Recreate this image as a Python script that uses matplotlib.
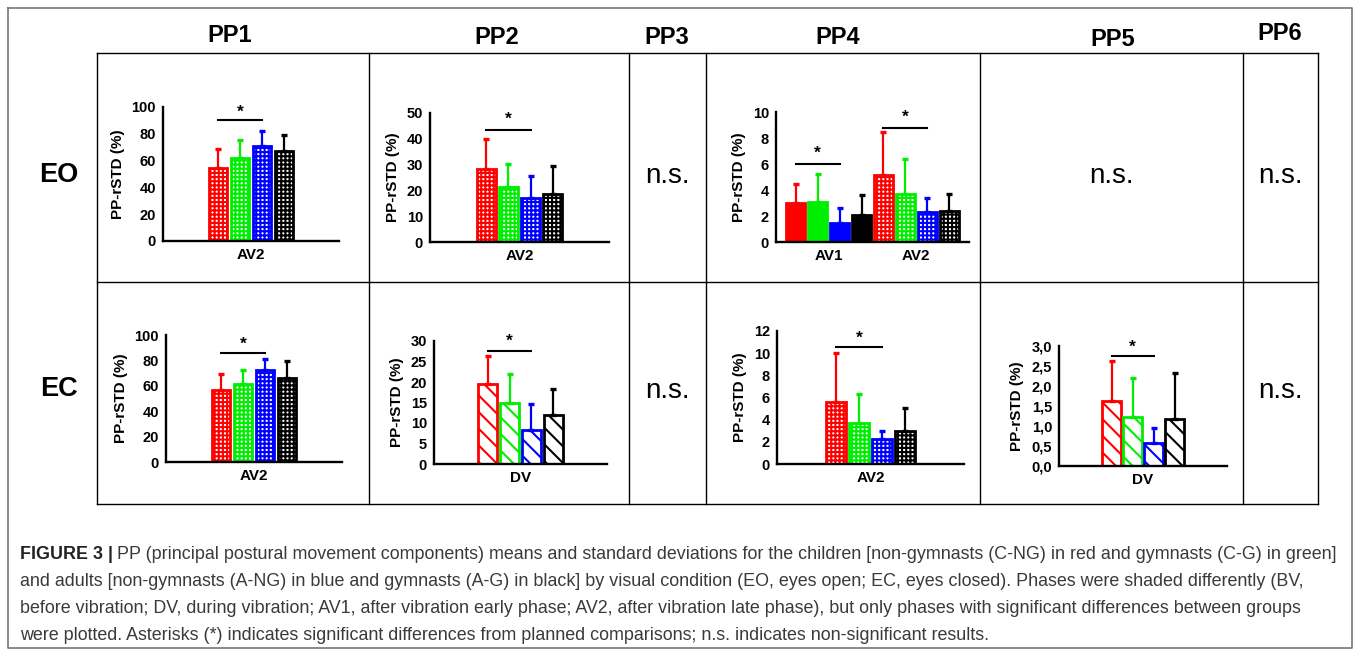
import matplotlib
matplotlib.use('Agg')
import matplotlib.pyplot as plt
from matplotlib import font_manager
from matplotlib.ticker import MultipleLocator, FuncFormatter
import numpy as np

plt.rcParams['font.family'] = 'Liberation Sans'
plt.rcParams['hatch.linewidth'] = 1.5

W, H = 1360, 651

# groups: children non-gymnasts, children gymnasts, adult non-gymnasts, adult gymnasts
colors = ['#ff0000', '#00ee00', '#0000ff', '#000000']
headers = ['PP1', 'PP2', 'PP3', 'PP4', 'PP5', 'PP6']
rows = ['EO', 'EC']

# EO row
pp1_eo_mean = [54.5, 62.2, 70.6, 67.4]
pp1_eo_sd = [13.9, 13.2, 11.5, 12.0]
pp2_eo_mean = [28.4, 21.5, 17.1, 18.7]
pp2_eo_sd = [11.4, 8.9, 8.3, 10.6]
pp4_eo_av1_mean = [3.02, 3.10, 1.46, 2.10]
pp4_eo_av1_sd = [1.43, 2.14, 1.12, 1.50]
pp4_eo_av2_mean = [5.17, 3.73, 2.28, 2.35]
pp4_eo_av2_sd = [3.32, 2.69, 1.10, 1.31]

# EC row
pp1_ec_mean = [56.6, 61.1, 72.1, 65.8]
pp1_ec_sd = [12.6, 11.5, 9.2, 13.9]
pp2_ec_mean = [19.4, 15.0, 8.3, 11.95]
pp2_ec_sd = [6.9, 7.0, 6.3, 6.45]
pp4_ec_mean = [5.59, 3.70, 2.26, 2.98]
pp4_ec_sd = [4.41, 2.59, 0.74, 2.04]
pp5_ec_mean = [1.62, 1.23, 0.565, 1.18]
pp5_ec_sd = [1.00, 0.96, 0.395, 1.15]

# significance bars: (from bar, to bar, line y, star y)
pp1_eo_sig = [(0, 2, 90, 96)]
pp2_eo_sig = [(0, 2, 43.3, 47.5)]
pp4_eo_sig = [(0, 2, 6.0, 6.8), (4, 6, 8.8, 9.6)]
pp1_ec_sig = [(0, 2, 85.8, 92.6)]
pp2_ec_sig = [(0, 2, 27.6, 29.9)]
pp4_ec_sig = [(0, 2, 10.6, 11.3)]
pp5_ec_sig = [(0, 2, 2.74, 2.98)]

ns_cells = [('PP3', 'EO'), ('PP5', 'EO'), ('PP6', 'EO'), ('PP3', 'EC'), ('PP6', 'EC')]

caption_bold = 'FIGURE 3 |'
caption_lines = [
    'PP (principal postural movement components) means and standard deviations for the children [non-gymnasts (C-NG) in red and gymnasts (C-G) in green]',
    'and adults [non-gymnasts (A-NG) in blue and gymnasts (A-G) in black] by visual condition (EO, eyes open; EC, eyes closed). Phases were shaded differently (BV,',
    'before vibration; DV, during vibration; AV1, after vibration early phase; AV2, after vibration late phase), but only phases with significant differences between groups',
    'were plotted. Asterisks (*) indicates significant differences from planned comparisons; n.s. indicates non-significant results.',
]

CHECK = '++++'
STRIPE = '\\\\'
SOLID = None

fig = plt.figure(figsize=(13.6, 6.51), dpi=100)
bg = fig.add_axes([0, 0, 1, 1])
bg.set_xlim(0, W)
bg.set_ylim(H, 0)
bg.axis('off')

# outer frame and table grid
bg.plot([8, 1352, 1352, 8, 8], [8, 8, 648, 648, 8], color='#777777', lw=1.2)
col_x = [97, 369, 629, 706, 980, 1243, 1318]
row_y = [53, 282, 504]
for y in row_y:
    bg.plot([col_x[0], col_x[-1]], [y, y], color='black', lw=1.0)
for x in col_x:
    bg.plot([x, x], [row_y[0], row_y[-1]], color='black', lw=1.0)

header_pos = [(230, 36), (497, 37), (667, 37), (838, 37), (1113, 39), (1280, 34)]
for name, (x, y) in zip(headers, header_pos):
    bg.text(x, y, name, fontsize=17, fontweight='bold', ha='center', va='center')
for name, y in zip(rows, [175, 389]):
    bg.text(59, y, name, fontsize=19.5, fontweight='bold', ha='center', va='center')

cell_center_x = dict(zip(headers, [(col_x[i] + col_x[i + 1]) / 2 for i in range(6)]))
cell_center_y = {'EO': 176, 'EC': 391}
for pp, r in ns_cells:
    bg.text(cell_center_x[pp], cell_center_y[r], 'n.s.', fontsize=20,
            ha='center', va='center')


def px_axes(x0, y0, x1, y1):
    return fig.add_axes([x0 / W, 1 - y1 / H, (x1 - x0) / W, (y1 - y0) / H])


def draw_panel(box, groups, ymax, step, pitch, sigs, comma=False):
    ax = px_axes(*box)
    n = 4 * len(groups)
    for g, (label, means, sds, hatch) in enumerate(groups):
        for i in range(4):
            xi = 4 * g + i
            ax.bar(xi, means[i], width=0.86,
                   facecolor=colors[i] if hatch is None else 'white',
                   edgecolor=colors[i], hatch=hatch, linewidth=2.0, zorder=2)
            ax.errorbar(xi, means[i], yerr=[[0], [sds[i]]], fmt='none',
                        ecolor=colors[i], elinewidth=1.6, capsize=2.2,
                        capthick=2.4, zorder=3)
    for a, b, yl, ys in sigs:
        ax.plot([a, b], [yl, yl], color='black', lw=1.5, clip_on=False)
        ax.text((a + b) / 2, ys, '*', fontsize=12.5, fontweight='bold',
                ha='center', va='center', clip_on=False)
    width_px = box[2] - box[0]
    half = width_px / 2 / pitch
    mid = (n - 1) / 2
    ax.set_xlim(mid - half, mid + half)
    ax.set_ylim(0, ymax)
    ax.yaxis.set_major_locator(MultipleLocator(step))
    if comma:
        ax.yaxis.set_major_formatter(FuncFormatter(lambda v, p: f'{v:.1f}'.replace('.', ',')))
    ax.set_xticks([4 * g + 1.5 for g in range(len(groups))])
    ax.set_xticklabels([gr[0] for gr in groups])
    for s in ['top', 'right']:
        ax.spines[s].set_visible(False)
    for s in ['left', 'bottom']:
        ax.spines[s].set_linewidth(1.7)
    ax.tick_params(length=0, labelsize=10.5, pad=5)
    for lab in ax.get_xticklabels() + ax.get_yticklabels():
        lab.set_fontweight('bold')
    for lab in ax.get_xticklabels():
        lab.set_fontsize(11)
    ax.set_ylabel('PP-rSTD (%)', fontsize=11, fontweight='bold', labelpad=5)
    ax.set_facecolor('none')
    return ax


draw_panel((163, 107, 339, 241), [('AV2', pp1_eo_mean, pp1_eo_sd, CHECK)], 100, 20, 22, pp1_eo_sig)
draw_panel((430, 113, 609, 242), [('AV2', pp2_eo_mean, pp2_eo_sd, CHECK)], 50, 10, 22.2, pp2_eo_sig)
draw_panel((776, 112, 969, 242), [('AV1', pp4_eo_av1_mean, pp4_eo_av1_sd, SOLID),
                                  ('AV2', pp4_eo_av2_mean, pp4_eo_av2_sd, CHECK)],
           10, 2, 21.9, pp4_eo_sig)
draw_panel((166, 335, 342, 462), [('AV2', pp1_ec_mean, pp1_ec_sd, CHECK)], 100, 20, 22, pp1_ec_sig)
draw_panel((434, 341, 607, 464), [('DV', pp2_ec_mean, pp2_ec_sd, STRIPE)], 30, 5, 21.8, pp2_ec_sig)
draw_panel((777, 331, 964, 464), [('AV2', pp4_ec_mean, pp4_ec_sd, CHECK)], 12, 2, 23, pp4_ec_sig)
draw_panel((1059, 346, 1227, 466), [('DV', pp5_ec_mean, pp5_ec_sd, STRIPE)], 3.0, 0.5, 21, pp5_ec_sig,
           comma=True)

# caption
names = {f.name for f in font_manager.fontManager.ttflist}
cap_font = 'Liberation Sans Narrow' if 'Liberation Sans Narrow' in names else 'Liberation Sans'
renderer = fig.canvas.get_renderer()
probe = bg.text(0, 0, caption_bold + ' ' + caption_lines[0], fontsize=12, family=cap_font)
probe_w = probe.get_window_extent(renderer).width
probe.remove()
cap_size = 12 * (1340 - 20) / probe_w

baselines = [559, 586, 613, 640]
tb = bg.text(20, baselines[0], caption_bold, fontsize=cap_size, family=cap_font,
             fontweight='bold', color='#222222', va='baseline')
bx = tb.get_window_extent(renderer).x1
space = cap_size * 100 / 72 * 0.25
bg.text(bx + space, baselines[0], caption_lines[0], fontsize=cap_size, family=cap_font,
        color='#3a3a3a', va='baseline')
for line, y in zip(caption_lines[1:], baselines[1:]):
    bg.text(20, y, line, fontsize=cap_size, family=cap_font, color='#3a3a3a', va='baseline')

fig.savefig('out.png', dpi=100)
